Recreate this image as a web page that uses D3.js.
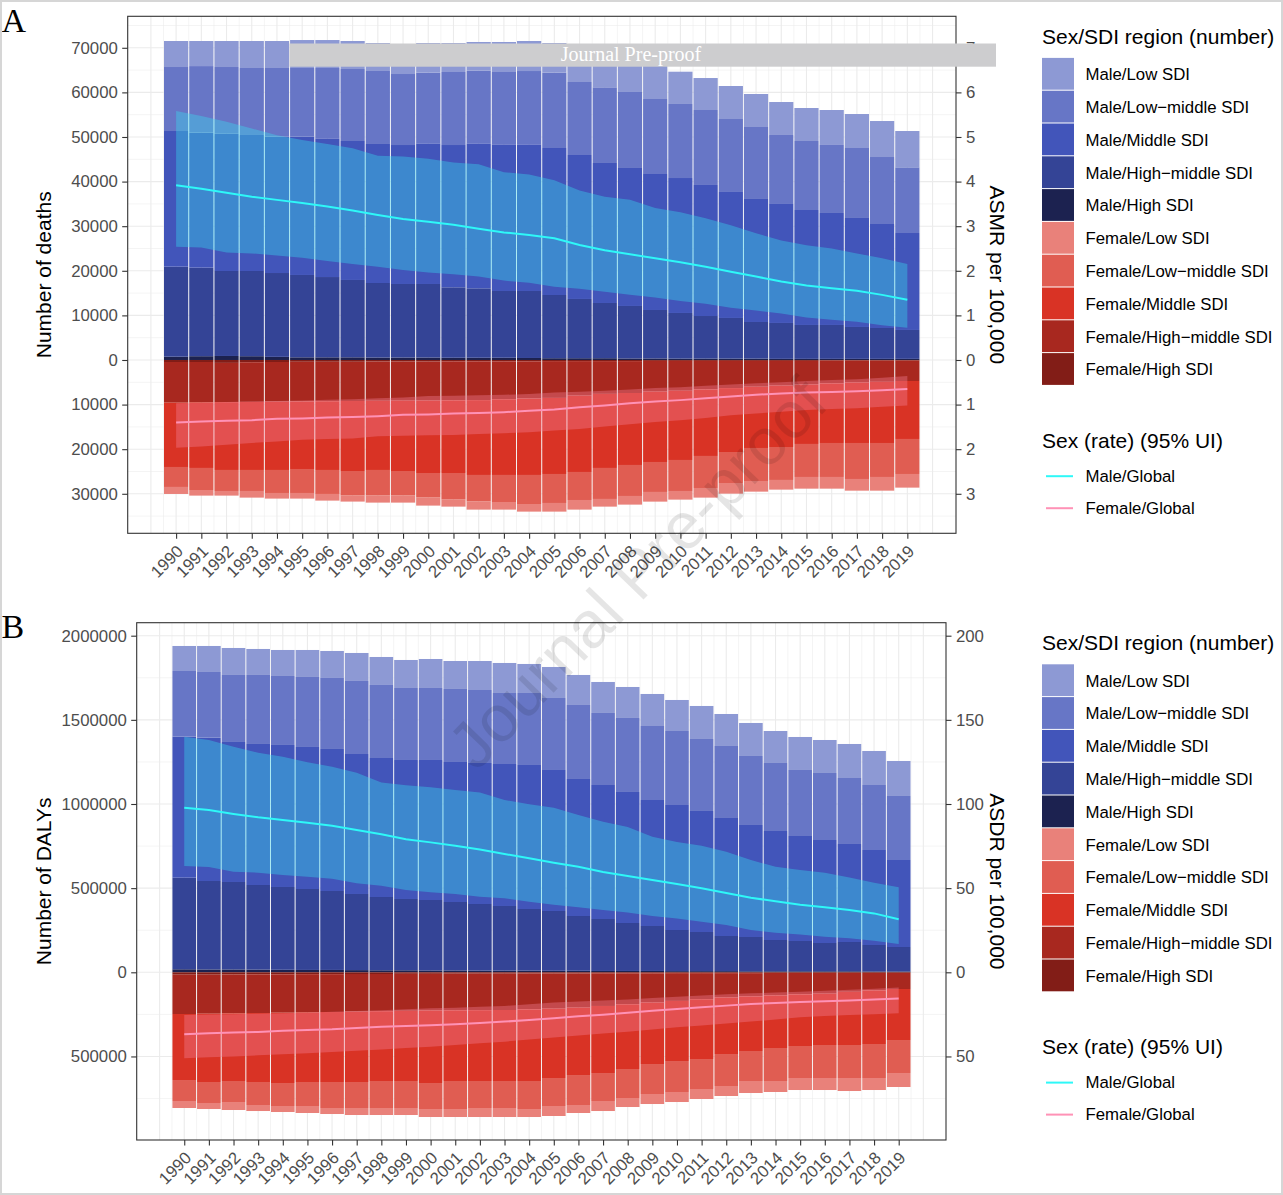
<!DOCTYPE html>
<html><head><meta charset="utf-8">
<script src="https://cdn.jsdelivr.net/npm/d3@7"></script>
<style>
body{margin:0;background:#fff}
svg{display:block}
text{font-family:"Liberation Sans",Arial,Helvetica,sans-serif}
</style>
</head><body>
<svg id="chart" width="1283" height="1195"></svg>
<script>
// ---------------- DATA ----------------
const years = [1990,1991,1992,1993,1994,1995,1996,1997,1998,1999,2000,2001,2002,2003,2004,2005,2006,2007,2008,2009,2010,2011,2012,2013,2014,2015,2016,2017,2018,2019];
const sdiGroups = ["Low SDI","Low\u2212middle SDI","Middle SDI","High\u2212middle SDI","High SDI"];
const maleColors = ["#8D99D4","#6776C6","#4255BA","#344496","#1C2250"];
const femaleColors = ["#E9817A","#E05D52","#D93325","#A8281F","#821D17"];

// Panel A: number of deaths (segments, stacked)
const deathsMaleHigh       = [740,850,900,850,700,600,600,600,550,550,550,500,500,500,450,400,400,400,350,350,300,300,300,300,250,250,250,250,250,250];
const deathsMaleHighMiddle = [20180,19850,19050,19100,18800,18460,18000,17340,16710,16490,16490,15800,15570,14970,15020,14170,13280,12380,11760,10860,10240,9560,9120,8220,8050,7600,7600,7150,6920,6480];
const deathsMaleMiddle     = [30420,30260,30850,30500,30560,31000,31100,31160,31170,31160,31540,31900,32510,32890,32890,32960,32280,31390,30940,30490,30260,29380,28250,27580,26680,25780,25110,24440,23320,21740];
const deathsMaleLowMiddle  = [14350,14940,14890,15020,15410,15410,15770,16140,16370,15920,15840,16370,16280,16210,16430,16890,16370,16970,17040,16820,16600,16810,16360,16140,15470,15470,15250,15690,15020,14730];
const deathsMaleLow        = [5830,5620,5830,6050,6050,6270,6270,6280,6270,6380,6650,6500,6440,6730,6730,6650,7170,7160,7210,7780,7240,7170,7400,7400,7390,7400,7840,7620,8070,8140];
const deathsFemaleHigh       = [450,450,650,500,450,400,400,400,350,350,350,300,300,300,300,250,250,250,250,200,200,200,200,200,200,200,150,150,150,150];
const deathsFemaleHighMiddle = [9120,9050,8800,8900,8900,8900,8850,8800,8800,8770,8750,8750,8700,8500,8350,8250,7750,7350,7150,6900,6700,6400,6100,5800,5550,5300,5100,4900,4750,4560];
const deathsFemaleMiddle     = [14420,14710,15210,15260,15310,15140,15410,15690,15510,15770,16240,16290,16780,16980,17130,17060,17110,16610,16140,15770,15520,14920,14330,13730,13760,13330,13360,13560,13710,13000];
const deathsFemaleLowMiddle  = [4480,4940,4710,4710,5160,5380,5380,5520,5750,5520,5520,5970,5970,6060,6510,6500,6280,6950,6950,6720,6950,7180,6950,7400,7390,7400,7620,8070,7620,7850];
const deathsFemaleLow        = [1570,1260,1040,1490,1260,1260,1490,1340,1570,1570,1790,1570,1800,1710,1710,1940,2160,1720,1940,2170,1940,2160,2390,2390,2170,2620,2620,2620,3070,3060];
// ASMR per 100,000 (global, with 95% UI)
const asmrMale      = [3.92,3.84,3.75,3.66,3.59,3.52,3.44,3.35,3.25,3.16,3.10,3.03,2.94,2.86,2.80,2.73,2.58,2.46,2.37,2.28,2.19,2.09,1.98,1.87,1.76,1.67,1.61,1.55,1.46,1.35];
const asmrMaleUpper = [5.58,5.47,5.34,5.19,5.04,4.93,4.84,4.75,4.58,4.56,4.51,4.43,4.39,4.21,4.16,4.03,3.80,3.66,3.59,3.41,3.31,3.18,3.02,2.84,2.68,2.57,2.50,2.39,2.28,2.15];
const asmrMaleLower = [2.54,2.52,2.41,2.39,2.34,2.29,2.22,2.15,2.09,2.02,1.96,1.92,1.87,1.78,1.73,1.64,1.60,1.53,1.46,1.40,1.32,1.26,1.17,1.11,1.04,0.95,0.90,0.86,0.78,0.72];
const asmrFemale      = [1.40,1.38,1.36,1.35,1.32,1.31,1.29,1.28,1.26,1.23,1.22,1.20,1.19,1.17,1.14,1.11,1.06,1.02,0.97,0.93,0.90,0.86,0.82,0.78,0.75,0.73,0.72,0.70,0.68,0.65];
const asmrFemaleLower = [0.97,0.96,0.94,0.93,0.92,0.91,0.89,0.88,0.86,0.84,0.81,0.80,0.79,0.78,0.76,0.73,0.71,0.69,0.66,0.63,0.61,0.58,0.55,0.52,0.50,0.47,0.45,0.43,0.40,0.36];
const asmrFemaleUpper = [1.97,1.94,1.90,1.86,1.83,1.79,1.77,1.76,1.71,1.70,1.69,1.68,1.66,1.64,1.62,1.58,1.55,1.49,1.44,1.39,1.35,1.30,1.24,1.20,1.16,1.12,1.10,1.08,1.05,1.02];

// Panel B: number of DALYs
const dalysMaleHigh       = [18000,17000,17000,16000,15000,14000,14000,13000,12000,12000,11000,11000,10000,10000,10000,9000,9000,8000,8000,8000,7000,7000,7000,6000,6000,6000,6000,6000,5000,5000];
const dalysMaleHighMiddle = [544100,525500,519600,502700,491900,481000,469100,452300,435400,423600,418600,406700,395800,384000,366100,355200,325500,308700,284900,267100,244300,232500,208700,203800,185900,180000,168100,174000,157200,145300];
const dalysMaleMiddle     = [837900,851500,831900,837900,843800,843800,843800,831800,825900,825900,831900,831900,837900,843700,855700,837900,814100,796200,778500,748700,742800,719000,701200,665500,647700,623900,612000,582400,564500,517000];
const dalysMaleLowMiddle  = [390300,390400,398100,410000,409900,415900,421900,433900,433900,427800,427800,433800,433700,421900,427800,427800,439700,427900,439700,439700,439700,427800,427800,410000,404100,392200,398200,392100,386200,380300];
const dalysMaleLow        = [148600,154500,160400,154500,154500,160400,160400,166300,166300,166400,172300,166300,172300,178300,172400,184200,178300,184200,184200,190200,184200,196100,190100,196100,190100,196100,196000,202100,202100,208000];
const dalysFemaleHigh       = [14000,14000,13000,12000,12000,11000,11000,10000,10000,9000,9000,8000,8000,8000,7000,7000,7000,6000,6000,6000,5000,5000,5000,5000,4000,4000,4000,4000,4000,4000];
const dalysFemaleHighMiddle = [233800,232000,231000,230000,228000,227000,225000,224000,221000,220000,218000,218000,217000,216000,213000,209000,203000,194000,184000,174000,165000,155000,145000,138000,133000,127000,123000,112000,104000,95200];
const dalysFemaleMiddle     = [392200,405800,401900,409800,417800,413800,415800,417800,414900,416900,430800,419900,420900,421900,425900,412100,400300,398400,384600,364900,357100,355200,335500,324600,312800,306900,305000,316000,318000,303100];
const dalysFemaleLowMiddle  = [124700,124800,124800,136700,136600,142600,154500,154500,160400,160400,154500,166400,160400,160400,166400,166300,178200,166300,172300,178200,184100,178200,190100,178300,196100,190200,196100,196100,202100,196100];
const dalysFemaleLow        = [41600,35700,47500,35700,35700,41600,35700,41600,41600,41600,47500,47500,53500,53500,47500,59400,47500,59500,53500,59500,59500,59400,59400,71300,65300,71300,71300,77200,71300,83100];
// ASDR per 100,000
const asdrMale      = [97.8,96.4,94.1,92.1,90.5,88.9,87.1,84.6,82.0,79.0,77.2,75.2,72.9,70.3,67.8,65.1,62.7,59.6,57.2,54.8,52.5,49.9,47.1,44.3,42.2,40.2,38.6,37.0,35.0,31.5];
const asdrMaleUpper = [140.0,138.0,134.0,130.5,128.1,124.8,122.2,118.6,112.7,111.1,109.9,108.3,106.9,102.4,99.8,97.8,93.5,89.5,86.3,80.6,77.4,75.2,71.7,66.7,62.7,60.8,59.2,56.4,53.2,50.5];
const asdrMaleLower = [63.2,62.6,59.8,59.2,57.8,56.8,55.6,52.9,51.5,48.9,47.5,46.5,44.9,44.0,41.9,40.2,38.6,37.0,35.6,33.5,31.9,30.1,28.1,25.1,23.5,22.5,21.1,20.2,18.8,16.8];
const asdrFemale      = [36.8,36.2,35.7,35.5,34.7,34.3,33.9,33.1,32.3,31.9,31.5,30.9,30.1,29.3,28.3,27.3,26.1,25.2,24.0,22.8,21.8,20.8,19.8,18.8,18.2,17.6,17.2,16.8,16.2,15.6];
const asdrFemaleLower = [25.4,25.1,24.9,24.6,24.3,24.0,23.5,23.0,22.5,22.0,21.4,21.0,20.5,20.0,19.0,18.0,17.4,16.8,16.1,15.3,14.5,13.8,13.1,12.5,12.0,11.5,11.0,10.4,9.8,9.1];
const asdrFemaleUpper = [51.1,50.5,50.0,49.3,48.7,48.1,47.4,46.6,45.8,45.0,44.2,43.2,42.2,41.2,40.0,38.8,37.6,36.4,35.3,34.0,32.7,31.6,30.4,29.3,28.0,26.7,26.0,25.4,24.9,24.4];

// Tick labels
const deathTicks = [-30000,-20000,-10000,0,10000,20000,30000,40000,50000,60000,70000];
const asmrTicks  = [-3,-2,-1,0,1,2,3,4,5,6,7];
const dalyTicks  = [-500000,0,500000,1000000,1500000,2000000];
const asdrTicks  = [-50,0,50,100,150,200];

// ---------------- DRAWING ----------------
const svg = d3.select("#chart");
svg.append("rect").attr("width",1283).attr("height",1195).attr("fill","#fff");

const stackKeys = ["High SDI","High\u2212middle SDI","Middle SDI","Low\u2212middle SDI","Low SDI"]; // bottom -> top
function rows(arrs){ // arrs in stackKeys order
  return years.map((yr,i)=>{const o={year:yr}; stackKeys.forEach((k,j)=>o[k]=arrs[j][i]); return o;});
}
const colorOf = (sex,key)=> (sex==="Male"?maleColors:femaleColors)[sdiGroups.indexOf(key)];

function drawPanel(cfg){
  const g = svg.append("g");
  const x = d3.scaleLinear().domain(cfg.xDomain).range([cfg.left,cfg.right]);
  const y = d3.scaleLinear().domain(cfg.yDomain).range([cfg.bottom,cfg.top]);
  const yR = d3.scaleLinear().domain(cfg.yDomain.map(v=>v/cfg.rateFactor)).range([cfg.bottom,cfg.top]);
  const W = cfg.right-cfg.left, H = cfg.bottom-cfg.top;
  const clipId = "clip"+cfg.id;
  g.append("clipPath").attr("id",clipId).append("rect").attr("x",cfg.left).attr("y",cfg.top).attr("width",W).attr("height",H);
  g.append("rect").attr("x",cfg.left).attr("y",cfg.top).attr("width",W).attr("height",H).attr("fill","#fff");
  const grid = g.append("g").attr("clip-path",`url(#${clipId})`);
  // horizontal grid
  const yMin = Math.ceil(cfg.yDomain[0]/cfg.minorStep)*cfg.minorStep;
  for(let v=yMin; v<=cfg.yDomain[1]; v+=cfg.minorStep){
    const major = Math.abs(v % cfg.majorStep) < 1e-6;
    grid.append("line").attr("x1",cfg.left).attr("x2",cfg.right).attr("y1",y(v)).attr("y2",y(v))
      .attr("stroke","#EBEBEB").attr("stroke-width",major?1.1:0.55);
  }
  // vertical grid
  for(let t=1989; t<=2020.01; t+=0.5){
    const major = Math.abs(t-Math.round(t))<1e-6;
    grid.append("line").attr("y1",cfg.top).attr("y2",cfg.bottom).attr("x1",x(t)).attr("x2",x(t))
      .attr("stroke","#EBEBEB").attr("stroke-width",major?1.1:0.55);
  }
  const plot = g.append("g").attr("clip-path",`url(#${clipId})`);
  // stacked bars
  const stack = d3.stack().keys(stackKeys);
  [["Male",cfg.male,1],["Female",cfg.female,-1]].forEach(([sex,arrs,sign])=>{
    const series = stack(rows(arrs));
    series.forEach(s=>{
      plot.append("g").attr("fill",colorOf(sex,s.key)).selectAll("rect").data(s).join("rect")
        .attr("x",d=>x(d.data.year-0.5)+0.5)
        .attr("width",d=>x(d.data.year+0.5)-x(d.data.year-0.5)-1)
        .attr("y",d=>Math.min(y(sign*d[0]),y(sign*d[1])))
        .attr("height",d=>Math.abs(y(sign*d[1])-y(sign*d[0])));
    });
  });
  // ribbons + lines
  const rib = (lo,hi,sign)=>d3.area().x((d,i)=>x(years[i])).y0((d,i)=>yR(sign*lo[i])).y1((d,i)=>yR(sign*hi[i]));
  const ln = (v,sign)=>d3.line().x((d,i)=>x(years[i])).y((d,i)=>yR(sign*v[i]));
  plot.append("path").datum(years).attr("d",rib(cfg.mLo,cfg.mHi,1)).attr("fill","rgb(54,224,242)").attr("fill-opacity",0.37);
  plot.append("path").datum(years).attr("d",rib(cfg.fLo,cfg.fHi,-1)).attr("fill","rgb(244,129,155)").attr("fill-opacity",0.37);
  plot.append("path").datum(years).attr("d",ln(cfg.mLine,1)).attr("fill","none").attr("stroke","#2EF8F8").attr("stroke-width",2);
  plot.append("path").datum(years).attr("d",ln(cfg.fLine,-1)).attr("fill","none").attr("stroke","#FF92B6").attr("stroke-width",2);
  // border
  g.append("rect").attr("x",cfg.left).attr("y",cfg.top).attr("width",W).attr("height",H)
    .attr("fill","none").attr("stroke","#333").attr("stroke-width",1.1);
  // axes
  const styleAxis = a=>{a.select(".domain").remove(); a.selectAll(".tick line").attr("stroke","#333").attr("stroke-width",1.1);
    a.selectAll(".tick text").attr("fill","#4D4D4D").style("font-size","16.8px").style("font-family","'Liberation Sans',Arial,sans-serif");};
  const aL = g.append("g").attr("transform",`translate(${cfg.left},0)`)
    .call(d3.axisLeft(y).tickValues(cfg.leftTicks).tickFormat(d=>String(Math.abs(d))).tickSize(5.5).tickPadding(4.4));
  styleAxis(aL);
  const aR = g.append("g").attr("transform",`translate(${cfg.right},0)`)
    .call(d3.axisRight(yR).tickValues(cfg.rightTicks).tickFormat(d=>String(Math.abs(d))).tickSize(5.5).tickPadding(4.4));
  styleAxis(aR);
  const aB = g.append("g").attr("transform",`translate(0,${cfg.bottom})`)
    .call(d3.axisBottom(x).tickValues(years).tickFormat(d3.format("d")).tickSize(5.5));
  styleAxis(aB);
  aB.selectAll(".tick text").attr("x",7.5).attr("y",19).attr("dy",0).attr("text-anchor","end")
    .attr("transform","rotate(-45 7.5 19)");
  // axis titles
  const cy = (cfg.top+cfg.bottom)/2;
  g.append("text").attr("transform",`translate(51,${cy}) rotate(-90)`).attr("text-anchor","middle")
    .style("font-size","21px").attr("fill","#000").text(cfg.leftTitle);
  g.append("text").attr("transform",`translate(990,${cy}) rotate(90)`).attr("text-anchor","middle")
    .style("font-size","21px").attr("fill","#000").text(cfg.rightTitle);
  // panel letter
  g.append("text").attr("x",1.5).attr("y",cfg.top+15.3).style("font-family","'Liberation Serif','Times New Roman',serif")
    .style("font-size","34px").attr("fill","#000").text(cfg.letter);
  // legend
  const L = g.append("g").attr("transform",`translate(0,${cfg.legendDy})`);
  L.append("text").attr("x",1042).attr("y",43.5).style("font-size","21px").text("Sex/SDI region (number)");
  const items = [];
  sdiGroups.forEach((s,i)=>items.push(["Male/"+s,maleColors[i]]));
  sdiGroups.forEach((s,i)=>items.push(["Female/"+s,femaleColors[i]]));
  items.forEach(([lab,col],i)=>{
    L.append("rect").attr("x",1042).attr("y",57.9+32.8*i).attr("width",32).attr("height",31.8).attr("fill",col);
    L.append("text").attr("x",1085.5).attr("y",74.3+32.8*i).attr("dy","0.35em").style("font-size","16.8px").text(lab);
  });
  L.append("text").attr("x",1042).attr("y",448).style("font-size","21px").text("Sex (rate) (95% UI)");
  [["Male/Global","#2EF8F8"],["Female/Global","#FF92B6"]].forEach(([lab,col],i)=>{
    L.append("line").attr("x1",1046).attr("x2",1073).attr("y1",476.2+32*i).attr("y2",476.2+32*i).attr("stroke",col).attr("stroke-width",2);
    L.append("text").attr("x",1085.5).attr("y",476.2+32*i).attr("dy","0.35em").style("font-size","16.8px").text(lab);
  });
}

drawPanel({id:"A", letter:"A", left:127.7, right:956, top:16.3, bottom:533.3,
  xDomain:[1988.08,2020.93], yDomain:[-38860,77060], rateFactor:10000, majorStep:10000, minorStep:5000,
  male:[deathsMaleHigh,deathsMaleHighMiddle,deathsMaleMiddle,deathsMaleLowMiddle,deathsMaleLow],
  female:[deathsFemaleHigh,deathsFemaleHighMiddle,deathsFemaleMiddle,deathsFemaleLowMiddle,deathsFemaleLow],
  mLine:asmrMale, mLo:asmrMaleLower, mHi:asmrMaleUpper, fLine:asmrFemale, fLo:asmrFemaleLower, fHi:asmrFemaleUpper,
  leftTicks:deathTicks, rightTicks:asmrTicks, leftTitle:"Number of deaths", rightTitle:"ASMR per 100,000", legendDy:0});

drawPanel({id:"B", letter:"B", left:136.7, right:946, top:622.7, bottom:1140,
  xDomain:[1988.07,2020.92], yDomain:[-996400,2077200], rateFactor:10000, majorStep:500000, minorStep:250000,
  male:[dalysMaleHigh,dalysMaleHighMiddle,dalysMaleMiddle,dalysMaleLowMiddle,dalysMaleLow],
  female:[dalysFemaleHigh,dalysFemaleHighMiddle,dalysFemaleMiddle,dalysFemaleLowMiddle,dalysFemaleLow],
  mLine:asdrMale, mLo:asdrMaleLower, mHi:asdrMaleUpper, fLine:asdrFemale, fLo:asdrFemaleLower, fHi:asdrFemaleUpper,
  leftTicks:dalyTicks, rightTicks:asdrTicks, leftTitle:"Number of DALYs", rightTitle:"ASDR per 100,000", legendDy:606.4});

// watermark
svg.append("text").attr("transform","translate(637,573) rotate(-46)").attr("text-anchor","middle").attr("dy","0.35em")
  .style("font-size","66px").attr("fill","#000").attr("fill-opacity",0.1).text("Journal Pre-proof");
svg.append("rect").attr("x",289.5).attr("y",43.5).attr("width",706.5).attr("height",23.2).attr("fill","#CDCDCF");
svg.append("text").attr("x",631).attr("y",61).attr("text-anchor","middle")
  .style("font-family","'Liberation Serif','Times New Roman',serif").style("font-size","20px").attr("fill","#fff").text("Journal Pre-proof");
// outer frame
svg.append("rect").attr("x",1).attr("y",1).attr("width",1281).attr("height",1193).attr("fill","none").attr("stroke","#D6D6D6").attr("stroke-width",2);
</script>
</body></html>
